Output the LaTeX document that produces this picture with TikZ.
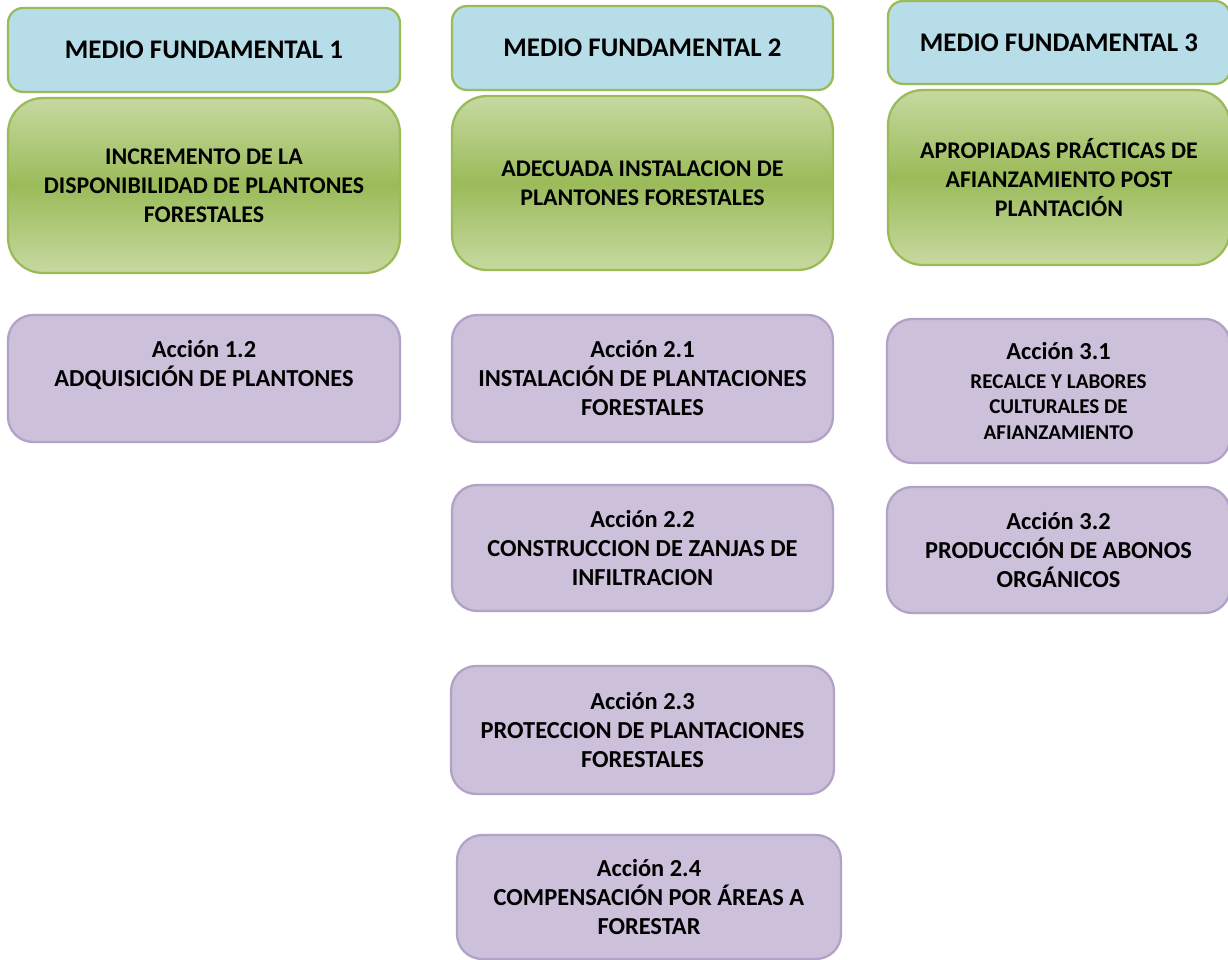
\documentclass[tikz,border=0pt]{standalone}
\usepackage{fontspec}
\setmainfont{Carlito}
\definecolor{celeste}{HTML}{B7DDE8}
\definecolor{verdeborde}{HTML}{9BBB59}
\definecolor{verdeclaro}{HTML}{C6D9A0}
\definecolor{verdemedio}{HTML}{9BBB59}
\definecolor{lila}{HTML}{CCC0DA}
\definecolor{lilaborde}{HTML}{B3A2C7}
\begin{document}
\begin{tikzpicture}[x=0.02cm, y=-0.02cm,
    medio/.style={draw=verdeborde, line width=1.3pt, fill=celeste, rounded corners=0.3cm,
        align=center, inner sep=0pt, font=\bfseries\fontsize{15.3}{19}\selectfont},
    fin/.style={draw=verdeborde, line width=1.3pt, top color=verdeclaro, bottom color=verdeclaro,
        middle color=verdemedio, rounded corners=0.7cm, align=center, inner sep=0pt,
        font=\bfseries\fontsize{13.6}{16.5}\selectfont},
    accion/.style={draw=lilaborde, line width=1.3pt, fill=lila, rounded corners=0.5cm,
        align=center, inner sep=0pt, font=\bfseries\fontsize{13.9}{16.5}\selectfont}]
    \useasboundingbox (0,0) rectangle (1228,960);
    % medios fundamentales
    \node[medio, minimum width=7.84cm, minimum height=1.68cm] (mf1) at (204,50) {MEDIO FUNDAMENTAL 1};
    \node[medio, minimum width=7.62cm, minimum height=1.68cm] (mf2) at (642.5,48) {MEDIO FUNDAMENTAL 2};
    \node[medio, minimum width=6.84cm, minimum height=1.66cm] (mf3) at (1059,42.5) {MEDIO FUNDAMENTAL 3};
    % fines
    \node[fin, minimum width=7.84cm, minimum height=3.5cm] (fin1) at (204,185.5)
        {INCREMENTO DE LA\\DISPONIBILIDAD DE PLANTONES\\FORESTALES};
    \node[fin, minimum width=7.62cm, minimum height=3.48cm] (fin2) at (642.5,183)
        {ADECUADA INSTALACION DE\\PLANTONES FORESTALES};
    \node[fin, minimum width=6.84cm, minimum height=3.5cm] (fin3) at (1059,177.5)
        {APROPIADAS PRÁCTICAS DE\\AFIANZAMIENTO POST\\PLANTACIÓN};
    % acciones
    \node[accion, minimum width=7.84cm, minimum height=2.54cm, text depth=0.6cm] (a12) at (204,378.5)
        {Acción 1.2\\ADQUISICIÓN DE PLANTONES};
    \node[accion, minimum width=7.62cm, minimum height=2.54cm] (a21) at (642.5,378.5)
        {Acción 2.1\\INSTALACIÓN DE PLANTACIONES\\FORESTALES};
    \node[accion, minimum width=7.62cm, minimum height=2.52cm] (a22) at (642.5,548)
        {Acción 2.2\\CONSTRUCCION DE ZANJAS DE\\INFILTRACION};
    \node[accion, minimum width=7.66cm, minimum height=2.56cm] (a23) at (642.5,730)
        {Acción 2.3\\PROTECCION DE PLANTACIONES\\FORESTALES};
    \node[accion, minimum width=7.68cm, minimum height=2.48cm] (a24) at (649,897)
        {Acción 2.4\\COMPENSACIÓN POR ÁREAS A\\FORESTAR};
    \node[accion, minimum width=6.86cm, minimum height=2.88cm] (a31) at (1058.5,391)
        {Acción 3.1\\{\fontsize{12}{14}\selectfont RECALCE Y LABORES}\\[-2pt]
        {\fontsize{12}{14}\selectfont CULTURALES DE}\\[-2pt]{\fontsize{12}{14}\selectfont AFIANZAMIENTO}};
    \node[accion, minimum width=6.86cm, minimum height=2.52cm] (a32) at (1058.5,550)
        {Acción 3.2\\PRODUCCIÓN DE ABONOS\\ORGÁNICOS};
\end{tikzpicture}
\end{document}
